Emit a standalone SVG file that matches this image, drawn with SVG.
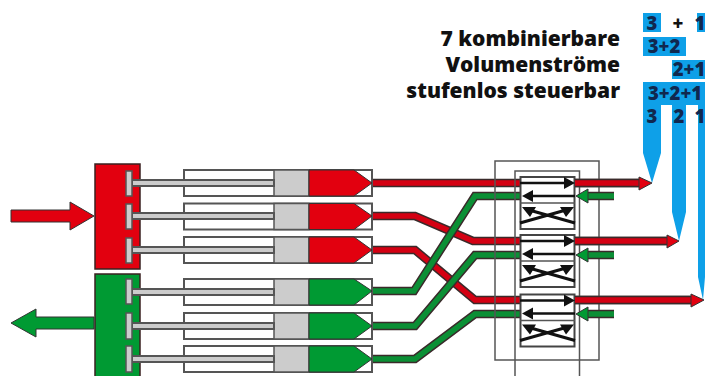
<svg xmlns="http://www.w3.org/2000/svg" xmlns:xlink="http://www.w3.org/1999/xlink" width="705" height="376" viewBox="0 0 705 376">
<style>
text{font-family:"Open Sans","Liberation Sans",sans-serif;font-weight:800}
.t{font-size:21px;fill:#111;text-anchor:end}
.n{font-size:18.500px;fill:#10284f;text-anchor:middle}
.blue{fill:#0ea0e8}
.blk{stroke:#3a2020;stroke-width:1.500}
.red{fill:#e2000f}.green{fill:#009a33}
.cyl{fill:#fff;stroke:#555;stroke-width:2}
.pis{fill:#ccc;stroke:#555;stroke-width:1.500}
.rod{fill:#ccc;stroke:#555;stroke-width:2}
.tip{stroke:#333;stroke-width:1;stroke-linejoin:miter}
.lo{fill:none;stroke:#3a2a2a;stroke-width:8.500;stroke-linejoin:miter}
.rl{fill:none;stroke:#d40012;stroke-width:5.500;stroke-linejoin:miter}
.gl{fill:none;stroke:#0b8f35;stroke-width:5.500;stroke-linejoin:miter}
.frame{fill:none;stroke:#555;stroke-width:1.500}
.vb{fill:#fff;stroke:#444;stroke-width:2}
.bk{fill:none;stroke:#111;stroke-width:2.500}
.x{fill:none;stroke:#111;stroke-width:3}
</style>
<defs>
<g id="cyl">
<rect class="cyl" x="184" y="0" width="188" height="26"/>
<rect class="pis" x="274" y="0" width="35" height="26"/>
</g>
<g id="valve">
<rect class="vb" x="520.500" y="0" width="54" height="52"/>
<path class="frame" d="M520 26H575"/>
<path class="bk" d="M520 6H566"/><path d="M575 6L564 0V12Z" fill="#111"/>
<path class="bk" d="M575 19H530"/><path d="M522 19L533 13V25Z" fill="#111"/>
<path class="x" d="M529 33L575 46M566 33L520 46"/>
<path d="M522 30L536 30L530 40Z M574 30L560 30L566 40Z" fill="#111"/>
</g>
</defs>

<g id="connectors">
<path class="lo" d="M372 183H640"/>
<path class="lo" d="M372 216H415L473 241H668"/>
<path class="lo" d="M372 250H415L475 300H692"/>
<path class="rl" d="M372 183H640"/>
<path class="rl" d="M372 216H415L473 241H668"/>
<path class="rl" d="M372 250H415L475 300H692"/>
<path class="lo" d="M372 291H414L475 196H520"/>
<path class="lo" d="M372 326H415L475 255H520"/>
<path class="lo" d="M372 359H415L475 314H520"/>
<path class="gl" d="M372 291H414L475 196H520"/>
<path class="gl" d="M372 326H415L475 255H520"/>
<path class="gl" d="M372 359H415L475 314H520"/>
</g>

<g id="labels-blue">
<path class="blue" d="M643 13H661V32H643Z M697 13H705V32H697Z M643 37H686V56H643Z M672 60H705V79H672Z"/>
<path class="blue" d="M643 82H705V277L703 300L698 277V105H686V212L679 241L672 212V105H661V153L652 183L643 153Z"/>
<text class="n" x="652" y="30">3</text>
<text class="n" x="678" y="30" style="fill:#111">+</text>
<text class="n" x="700" y="30">1</text>
<text class="n" x="664" y="53">3+2</text>
<text class="n" x="689" y="76">2+1</text>
<text class="n" x="675" y="100">3+2+1</text>
<text class="n" x="652" y="123">3</text>
<text class="n" x="679" y="123">2</text>
<text class="n" x="700" y="123">1</text>
</g>

<g id="title">
<text class="t" x="620" y="46">7 kombinierbare</text>
<text class="t" x="620" y="72">Volumenströme</text>
<text class="t" x="620" y="98">stufenlos steuerbar</text>
</g>

<g id="supply">
<rect class="red blk" x="95" y="164" width="45" height="105"/>
<path class="red tip" d="M11 210H70V202L94 216L70 230V222H11Z"/>
</g>
<g id="return">
<rect class="green blk" x="95" y="274" width="45" height="104"/>
<path class="green tip" d="M94 317H36V309L11 323L36 337V329H94Z"/>
</g>

<g id="pump-1">
<use xlink:href="#cyl" href="#cyl" y="170"/>
<path class="red tip" d="M309 170H354L372 183L354 196H309Z"/>
<rect class="rod" x="132" y="180" width="142" height="6"/>
<rect class="pis" x="126" y="171" width="6" height="25"/>
</g>
<g id="pump-2">
<use xlink:href="#cyl" href="#cyl" y="203.500"/>
<path class="red tip" d="M309 203.500H354L372 216L354 229.500H309Z"/>
<rect class="rod" x="132" y="213" width="142" height="6"/>
<rect class="pis" x="126" y="204" width="6" height="25"/>
</g>
<g id="pump-3">
<use xlink:href="#cyl" href="#cyl" y="237"/>
<path class="red tip" d="M309 237H354L372 250L354 263H309Z"/>
<rect class="rod" x="132" y="247" width="142" height="6"/>
<rect class="pis" x="126" y="238" width="6" height="25"/>
</g>
<g id="pump-4">
<use xlink:href="#cyl" href="#cyl" y="279"/>
<path class="green tip" d="M309 279H354L372 291L354 305H309Z"/>
<rect class="rod" x="132" y="289" width="142" height="6"/>
<rect class="pis" x="126" y="279" width="6" height="25"/>
</g>
<g id="pump-5">
<use xlink:href="#cyl" href="#cyl" y="313"/>
<path class="green tip" d="M309 313H354L372 326L354 339H309Z"/>
<rect class="rod" x="132" y="323" width="142" height="6"/>
<rect class="pis" x="126" y="313" width="6" height="26"/>
</g>
<g id="pump-6">
<use xlink:href="#cyl" href="#cyl" y="346"/>
<path class="green tip" d="M309 346H354L372 359L354 372H309Z"/>
<rect class="rod" x="132" y="356" width="142" height="6"/>
<rect class="pis" x="126" y="346" width="6" height="26"/>
</g>

<g id="valve-block">
<path class="frame" d="M495 161H599V360H495Z"/>
<path class="frame" d="M515 376V171H579.500V376"/>
<use xlink:href="#valve" href="#valve" y="177"/>
<use xlink:href="#valve" href="#valve" y="235"/>
<use xlink:href="#valve" href="#valve" y="294.500"/>
</g>

<g id="outlets">
<path class="lo" d="M575 183H640M575 241H668M575 300H692"/>
<path class="rl" d="M575 183H640M575 241H668M575 300H692"/>
<path class="red tip" d="M639 177L652 183L639 190Z M667 235L679 241L667 248Z M691 294L704 300L691 307Z"/>
<path class="lo" d="M586 196H614M586 255H614M586 314H614"/>
<path class="gl" d="M586 196H614M586 255H614M586 314H614"/>
<path class="green tip" d="M576 196L588 189V203Z M576 255L588 248V262Z M576 314L588 307V321Z"/>
</g>
</svg>
